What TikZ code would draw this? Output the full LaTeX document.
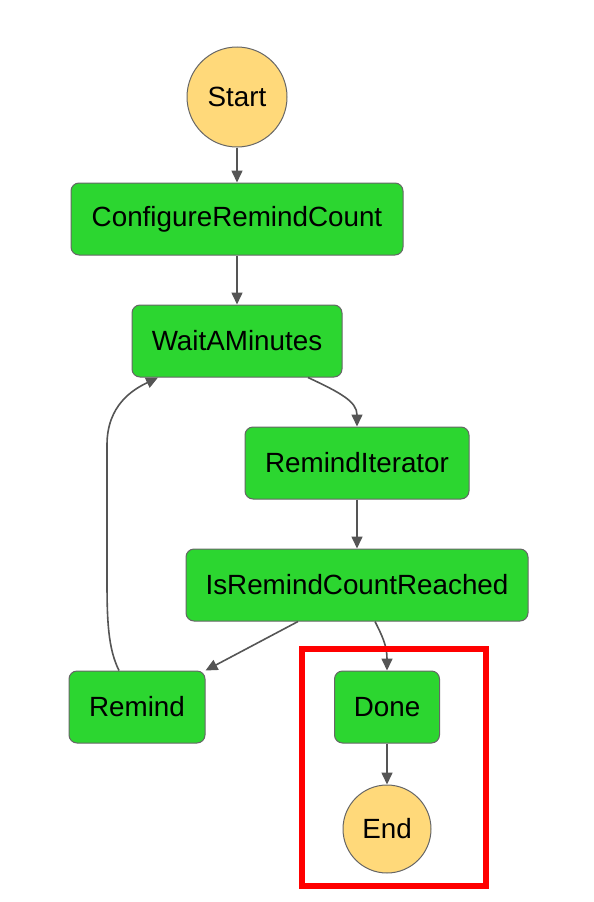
\documentclass[tikz,border=0pt]{standalone}
\usepackage{fontspec}
\setmainfont{Liberation Sans}
\usetikzlibrary{arrows.meta}
\definecolor{taskgreen}{RGB}{44,214,48}
\definecolor{termyellow}{RGB}{255,217,122}
\definecolor{edgegray}{RGB}{85,85,85}
\definecolor{bordergray}{RGB}{102,102,102}
\definecolor{hlred}{RGB}{255,0,0}
\begin{document}
\begin{tikzpicture}[x=1pt,y=-1pt,
  task/.style={draw=bordergray, line width=1pt, fill=taskgreen, rounded corners=8pt,
    minimum height=72pt, inner sep=0pt, font=\fontsize{27.8}{32}\selectfont},
  term/.style={draw=bordergray, line width=1pt, fill=termyellow, circle, inner sep=0pt,
    font=\fontsize{27.8}{32}\selectfont},
  conn/.style={draw=edgegray, line width=1.6pt, -{Triangle[length=12pt,width=11pt]}}
]
\useasboundingbox (0,0) rectangle (594,902);
\node[term, minimum size=100pt] (start) at (237,97) {Start};
\node[task, minimum width=332pt] (config) at (237,219) {ConfigureRemindCount};
\node[task, minimum width=210pt] (wait) at (237,341) {WaitAMinutes};
\node[task, minimum width=224pt] (iter) at (357,463) {RemindIterator};
\node[task, minimum width=342pt] (check) at (357,585) {IsRemindCountReached};
\node[task, minimum width=136pt] (remind) at (137,707) {Remind};
\node[task, minimum width=105pt] (done) at (387,707) {Done};
\node[term, minimum size=88pt] (end) at (387,829) {End};

\draw[conn] (start) -- (config);
\draw[conn] (config) -- (wait);
\draw[conn] ([xshift=71pt]wait.south) .. controls +(32,15) and +(0,-25) .. (iter.north);
\draw[conn] (iter) -- (check);
\draw[conn] ([xshift=-59pt]check.south) -- (remind.north east);
\draw[conn] ([xshift=18pt]check.south) .. controls +(7,14) and +(0,-25) .. (done.north);
\draw[conn] (done) -- (end);
\draw[conn] ([xshift=-18pt]remind.north) .. controls +(-11,-22) and +(0,40) .. (107,580)
  -- (107,445) .. controls +(0,-40) and +(-25,12) .. ([xshift=-79pt]wait.south);

\node[draw=hlred, line width=6pt, minimum width=184pt, minimum height=237pt, inner sep=0pt]
  (highlight) at (394,767.5) {};
\end{tikzpicture}
\end{document}
